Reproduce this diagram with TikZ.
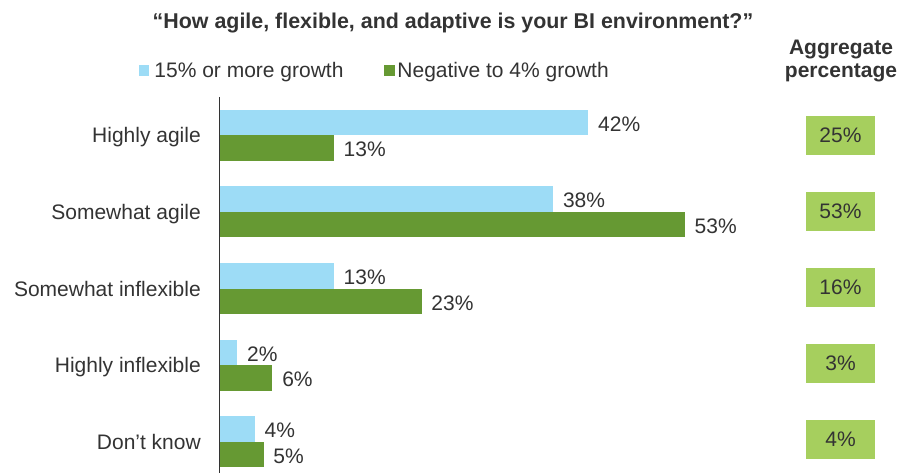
\documentclass[tikz,border=0pt]{standalone}
\usepackage{fontspec}
\setmainfont{Liberation Sans}
\usetikzlibrary{positioning}
\definecolor{barblue}{RGB}{157,220,246}
\definecolor{bargreen}{RGB}{102,153,51}
\definecolor{agggreen}{RGB}{166,207,94}
\definecolor{txtgrey}{RGB}{51,51,51}

\begin{document}
\begin{tikzpicture}[
			x=1pt, y=-1pt,
			every node/.style = {font=\fontsize{21}{25}\selectfont, text=txtgrey, inner sep=0pt},
			head/.style = {font=\bfseries\fontsize{21}{25}\selectfont, anchor=base},
			topbar/.style = {fill=barblue, anchor=west, minimum height=25.4pt, minimum width={#1*8.775pt}},
			botbar/.style = {fill=bargreen, anchor=west, minimum height=25.6pt, minimum width={#1*8.775pt}},
			cat/.style = {anchor=east, text height=15pt, text depth=0pt},
			val/.style = {text height=17.4pt, text depth=0pt},
			agg/.style = {fill=agggreen, minimum width=69pt, minimum height=39pt, text height=15pt, text depth=0pt},
			key/.style = {minimum size=10.5pt}
		]
		\useasboundingbox (0,0) rectangle (897,473);
		% Title and legend.
		\node[head, font=\bfseries\fontsize{21.4}{25}\selectfont] (title) at (453,29) {“How agile, flexible, and adaptive is your BI environment?”};
		\node[key, fill=barblue] (k1) at (144.2,70.3) {};
		\node[right=4.6pt of k1, text height=15pt, text depth=0pt] (k1t) {15\% or more growth};
		\node[key, fill=bargreen] (k2) at (389.3,70.3) {};
		\node[right=2.5pt of k2, text height=15pt, text depth=0pt] (k2t) {Negative to 4\% growth};
		\node[head] (agghead) at (841,55) {Aggregate};
		\node[head] (aggsub) at (841,78) {percentage};
		% Highly agile.
		\node[cat] (c1) at (201,135.3) {Highly agile};
		\node[topbar=42] (b1) at (219.5,122.6) {};
		\node[botbar=13] (g1) at (219.5,148.1) {};
		\node[val, right=9.5pt of b1] (b1v) {42\%};
		\node[val, right=9.5pt of g1] (g1v) {13\%};
		\node[agg] (a1) at (840.5,135.2) {25\%};
		% Somewhat agile.
		\node[cat] (c2) at (201,211.9) {Somewhat agile};
		\node[topbar=38] (b2) at (219.5,199.2) {};
		\node[botbar=53] (g2) at (219.5,224.7) {};
		\node[val, right=9.5pt of b2] (b2v) {38\%};
		\node[val, right=9.5pt of g2] (g2v) {53\%};
		\node[agg] (a2) at (840.5,211.2) {53\%};
		% Somewhat inflexible.
		\node[cat] (c3) at (201,288.5) {Somewhat inflexible};
		\node[topbar=13] (b3) at (219.5,275.8) {};
		\node[botbar=23] (g3) at (219.5,301.3) {};
		\node[val, right=9.5pt of b3] (b3v) {13\%};
		\node[val, right=9.5pt of g3] (g3v) {23\%};
		\node[agg] (a3) at (840.5,287.2) {16\%};
		% Highly inflexible.
		\node[cat] (c4) at (201,365.1) {Highly inflexible};
		\node[topbar=2] (b4) at (219.5,352.4) {};
		\node[botbar=6] (g4) at (219.5,377.9) {};
		\node[val, right=9.5pt of b4] (b4v) {2\%};
		\node[val, right=9.5pt of g4] (g4v) {6\%};
		\node[agg] (a4) at (840.5,363.2) {3\%};
		% Don't know.
		\node[cat] (c5) at (201,441.7) {Don’t know};
		\node[topbar=4] (b5) at (219.5,429) {};
		\node[botbar=5] (g5) at (219.5,454.5) {};
		\node[val, right=9.5pt of b5] (b5v) {4\%};
		\node[val, right=9.5pt of g5] (g5v) {5\%};
		\node[agg] (a5) at (840.5,439.2) {4\%};

		\coordinate (axtop) at (219.5,97);
		\coordinate (axbot) at (219.5,473);
		\draw[txtgrey, line width=1.1pt] (axtop) -- (axbot);
	\end{tikzpicture}
\end{document}
